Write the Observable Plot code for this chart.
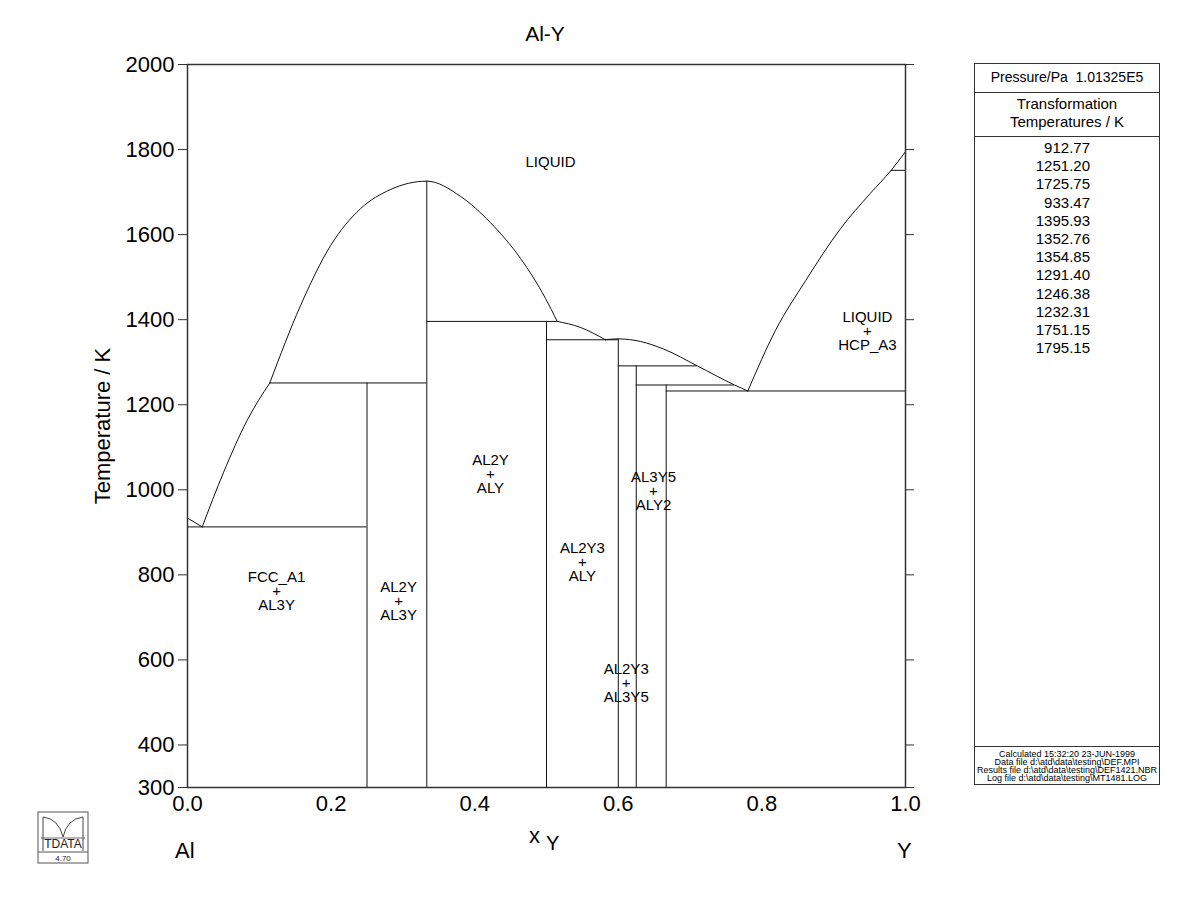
<!DOCTYPE html>
<html>
<head>
<meta charset="utf-8">
<script src="https://cdn.jsdelivr.net/npm/d3@7"></script>
<script src="https://cdn.jsdelivr.net/npm/@observablehq/plot@0.6"></script>
<style>
  html, body { margin: 0; padding: 0; background: #fff; }
  #wrap { position: relative; width: 1200px; height: 923px; background: #fff; font-family: "Liberation Sans", Arial, sans-serif; color: #000; overflow: hidden; }
  #plot { position: absolute; left: 0; top: 0; }
  .abs { position: absolute; white-space: nowrap; }
  #legend { position: absolute; left: 974px; top: 63px; width: 186px; height: 722px; border: 1px solid #333; box-sizing: border-box; }
  #legend .sep { position: absolute; left: 0; width: 100%; border-top: 1px solid #333; }
</style>
</head>
<body>
<div id="wrap">
  <div id="plot"></div>
  <div class="abs" style="left:0;width:1090px;top:22px;text-align:center;font-size:21px;">Al-Y</div>
  <div class="abs" style="left:103px;top:426px;font-size:22px;transform:translate(-50%,-50%) rotate(-90deg);">Temperature / K</div>
  <div class="abs" style="left:529px;top:823px;font-size:22px;">x<span style="position:relative;top:7px;left:6px;font-size:20px;">Y</span></div>
  <div class="abs" style="left:175px;top:838px;font-size:22px;">Al</div>
  <div class="abs" style="left:897px;top:838px;font-size:22px;">Y</div>
  <div id="legend"></div>
  <svg class="abs" style="left:37px;top:811px;" width="52" height="53" viewBox="0 0 52 53">
    <rect x="1" y="1" width="50" height="51" fill="none" stroke="#555" stroke-width="1"/>
    <line x1="1" y1="41" x2="51" y2="41" stroke="#555" stroke-width="1"/>
    <path d="M6 40 V6 Q22 8 26 26 Q30 8 46 6 V40" fill="none" stroke="#444" stroke-width="1"/>
    <text x="26" y="37" text-anchor="middle" font-size="12" font-family="Liberation Sans, Arial" fill="#222">TDATA</text>
    <line x1="4" y1="27" x2="48" y2="27" stroke="#444" stroke-width="0.8"/>
    <text x="26" y="50" text-anchor="middle" font-size="8" font-family="Liberation Sans, Arial" fill="#222">4.70</text>
  </svg>
</div>
<script>
// ---------- data ----------
const yTicks = [300, 400, 600, 800, 1000, 1200, 1400, 1600, 1800, 2000];
const xTicks = [0, 0.2, 0.4, 0.6, 0.8, 1.0];

// liquidus branches: [x_Y, T/K]
const liqAl = [[0, 933.47], [0.0205, 912.77]];
const liqAl3Y = [[0.0205, 912.77], [0.05, 1040], [0.083, 1163], [0.1146, 1251.20]];
const liqAl2Y = [[0.1146, 1251.20], [0.1574, 1433], [0.1992, 1574], [0.241, 1661], [0.2827, 1706],
                 [0.3333, 1725.75], [0.3802, 1690], [0.422, 1628], [0.4638, 1544], [0.4986, 1450],
                 [0.5149, 1395.93]];
const liqALY = [[0.5149, 1395.93], [0.547, 1382], [0.582, 1352.76]];
const liqAl2Y3 = [[0.582, 1352.76], [0.591, 1354.3], [0.6, 1354.85], [0.631, 1348.7], [0.663, 1331],
                  [0.71, 1291.40], [0.762, 1246.38], [0.7804, 1232.31]];
const liqY = [[0.7804, 1232.31], [0.819, 1375], [0.861, 1492], [0.9095, 1614], [0.951, 1697],
              [0.98, 1751.15], [1.0, 1795.15]];

// invariant (horizontal) lines: T, x from, x to
const invT  = [912.77, 1251.20, 1395.93, 1352.76, 1291.40, 1246.38, 1232.31, 1751.15];
const invX1 = [0, 0.1146, 0.3333, 0.5, 0.6, 0.625, 0.6667, 0.98];
const invX2 = [0.25, 0.3333, 0.5149, 0.6, 0.71, 0.762, 1.0, 1.0];

// compound (vertical) lines: x, top temperature
const compX = [0.25, 0.3333, 0.5, 0.6, 0.625, 0.6667];
const compTop = [1251.20, 1725.75, 1395.93, 1354.85, 1291.40, 1246.38];

// phase labels
const labText = ["FCC_A1\n+\nAL3Y", "AL2Y\n+\nAL3Y", "AL2Y\n+\nALY", "AL2Y3\n+\nALY", "AL3Y5\n+\nALY2", "AL2Y3\n+\nAL3Y5", "LIQUID\n+\nHCP_A3"];
const labX = [0.124, 0.294, 0.422, 0.55, 0.649, 0.611, 0.947];
const labT = [761, 737, 1036, 829, 996, 544, 1372];
const liquidLabel = {text: "LIQUID", x: 0.5056, T: 1770};

// legend
const pressureText = "Pressure/Pa\u00a0\u00a01.01325E5";
const transTemps = ["912.77", "1251.20", "1725.75", "933.47", "1395.93", "1352.76", "1354.85", "1291.40", "1246.38", "1232.31", "1751.15", "1795.15"];
const footer = ["Calculated  15:32:20  23-JUN-1999", "Data file  d:\\atd\\data\\testing\\DEF.MPI", "Results file  d:\\atd\\data\\testing\\DEF1421.NBR", "Log file  d:\\atd\\data\\testing\\MT1481.LOG"];

// ---------- build tables ----------
const toPts = (arr) => arr.map(([x, T]) => ({x, T}));
const branches = [liqAl, liqAl3Y, liqAl2Y, liqALY, liqAl2Y3, liqY];
const inv = invT.map((T, i) => ({T, x1: invX1[i], x2: invX2[i]}));
const comps = compX.map((x, i) => ({x, T1: 300, T2: compTop[i]}));
const labels = labText.map((t, i) => ({t, x: labX[i], T: labT[i]}));

const lineStyle = {stroke: "#111", strokeWidth: 1};

const chart = Plot.plot({
  width: 960,
  height: 880,
  marginLeft: 187,
  marginRight: 55,
  marginTop: 64,
  marginBottom: 93,
  style: {fontFamily: "Liberation Sans, Arial, sans-serif", fontSize: "15px", color: "#000", background: "transparent"},
  x: {domain: [0, 1]},
  y: {domain: [300, 2000]},
  marks: [
    ...branches.map(b => Plot.line(toPts(b), {x: "x", y: "T", curve: "monotone-x", ...lineStyle})),
    Plot.ruleY(inv, {y: "T", x1: "x1", x2: "x2", ...lineStyle}),
    Plot.ruleX(comps, {x: "x", y1: "T1", y2: "T2", ...lineStyle}),
    Plot.text(labels, {x: "x", y: "T", text: "t", fontSize: 15, lineHeight: 0.92, fill: "#000"}),
    Plot.text([liquidLabel], {x: "x", y: "T", text: "text", fontSize: 15, fill: "#000"}),
    Plot.frame({stroke: "#333", strokeWidth: 1.5}),
    Plot.axisY(yTicks, {anchor: "left", tickSize: 9, tickPadding: 4, fontSize: 22, tickFormat: d3.format("d"), label: null, stroke: "#333"}),
    Plot.axisY(yTicks, {anchor: "right", tickSize: 8, tickFormat: () => "", label: null, stroke: "#333"}),
    Plot.axisX(xTicks, {anchor: "bottom", tickSize: 0, tickPadding: 8, fontSize: 22, tickFormat: d3.format(".1f"), label: null})
  ]
});
document.getElementById("plot").appendChild(chart);

// ---------- legend ----------
const lg = d3.select("#legend");
lg.append("div").attr("class", "abs").style("left", "0").style("width", "100%").style("top", "5px")
  .style("text-align", "center").style("font-size", "14px").text(pressureText);
lg.append("div").attr("class", "sep").style("top", "28px");
lg.append("div").attr("class", "abs").style("left", "0").style("width", "100%").style("top", "31px")
  .style("text-align", "center").style("font-size", "15px").style("line-height", "18px")
  .html("Transformation<br>Temperatures / K");
lg.append("div").attr("class", "sep").style("top", "72px");
transTemps.forEach((v, i) => {
  lg.append("div").attr("class", "abs").style("right", "69px").style("top", (75 + i * 18.2) + "px")
    .style("font-size", "15px").style("line-height", "18px").text(v);
});
lg.append("div").attr("class", "sep").style("top", "682px");
lg.append("div").attr("class", "abs").style("left", "0").style("width", "100%").style("top", "686px")
  .style("text-align", "center").style("font-size", "9px").style("line-height", "8px")
  .html(footer.map(s => s.replace(/&/g, "&amp;")).join("<br>"));
</script>
</body>
</html>
